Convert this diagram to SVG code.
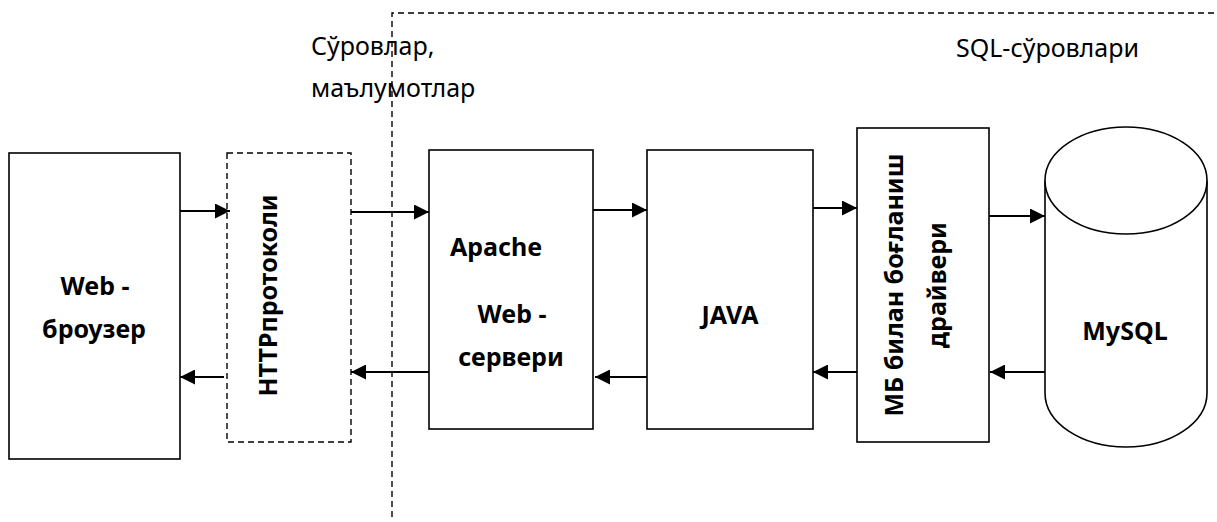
<svg xmlns="http://www.w3.org/2000/svg" width="1217" height="522" viewBox="0 0 1217 522">
<defs>
<marker id="ah" markerWidth="15" markerHeight="15" refX="15" refY="7.5" orient="auto" markerUnits="userSpaceOnUse">
<path d="M0,0 L15,7.5 L0,15 Z" fill="#000"/>
</marker>
<style>
.box{fill:#fff;stroke:#000;stroke-width:1.6}
.dash{fill:none;stroke:#000;stroke-width:1.4;stroke-dasharray:6 4}
.arr{fill:none;stroke:#000;stroke-width:2;marker-end:url(#ah)}
.lbl{font-family:"Noto Sans","Open Sans",sans-serif;font-size:25px;fill:#000}
.b{font-family:"Noto Sans","Open Sans",sans-serif;font-size:25px;font-weight:bold;fill:#000}
</style>
</defs>
<rect width="1217" height="522" fill="#fff"/>
<g id="boundary">
<path class="dash" d="M392,517 L392,13 L1217,13"/>
</g>
<g id="labels">
<text class="lbl" x="311" y="55">Сўровлар,</text>
<text class="lbl" x="311" y="97">маълумотлар</text>
<text class="lbl" x="956" y="57">SQL-сўровлари</text>
</g>
<g id="browser">
<rect class="box" x="9" y="153" width="171" height="306"/>
<text class="b" x="95" y="295" text-anchor="middle">Web -</text>
<text class="b" x="94" y="338" text-anchor="middle">броузер</text>
</g>
<g id="http">
<rect class="dash" x="227" y="153" width="124" height="289"/>
<text class="b" transform="translate(277,295.5) rotate(-90)" text-anchor="middle">HTTPпротоколи</text>
</g>
<g id="apache">
<rect class="box" x="429" y="150" width="164" height="279"/>
<text class="b" x="450" y="256">Apache</text>
<text class="b" x="512" y="323" text-anchor="middle">Web -</text>
<text class="b" x="511" y="366" text-anchor="middle">сервери</text>
</g>
<g id="java">
<rect class="box" x="647" y="150" width="166" height="279"/>
<text class="b" x="730" y="324" text-anchor="middle">JAVA</text>
</g>
<g id="driver">
<rect class="box" x="857" y="128" width="132" height="314"/>
<text class="b" transform="translate(903,285) rotate(-90)" text-anchor="middle">МБ билан боғланиш</text>
<text class="b" transform="translate(946,285) rotate(-90)" text-anchor="middle">драйвери</text>
</g>
<g id="mysql">
<path class="box" d="M1045,180.5 L1045,393 A81,54 0 0 0 1207,393 L1207,180.5"/>
<ellipse class="box" cx="1126" cy="180.5" rx="81" ry="53.5"/>
<text class="b" x="1125" y="340" text-anchor="middle">MySQL</text>
</g>
<g id="connectors">
<line class="arr" x1="180" y1="211" x2="230" y2="211"/>
<line class="arr" x1="351" y1="212" x2="429" y2="212"/>
<line class="arr" x1="593" y1="210" x2="647" y2="210"/>
<line class="arr" x1="813" y1="208" x2="857" y2="208"/>
<line class="arr" x1="989" y1="216" x2="1045" y2="216"/>
<line class="arr" x1="429" y1="372" x2="351" y2="372"/>
<line class="arr" x1="224" y1="377" x2="180" y2="377"/>
<line class="arr" x1="647" y1="377" x2="595" y2="377"/>
<line class="arr" x1="857" y1="372" x2="813" y2="372"/>
<line class="arr" x1="1045" y1="372" x2="990" y2="372"/>
</g>
</svg>
